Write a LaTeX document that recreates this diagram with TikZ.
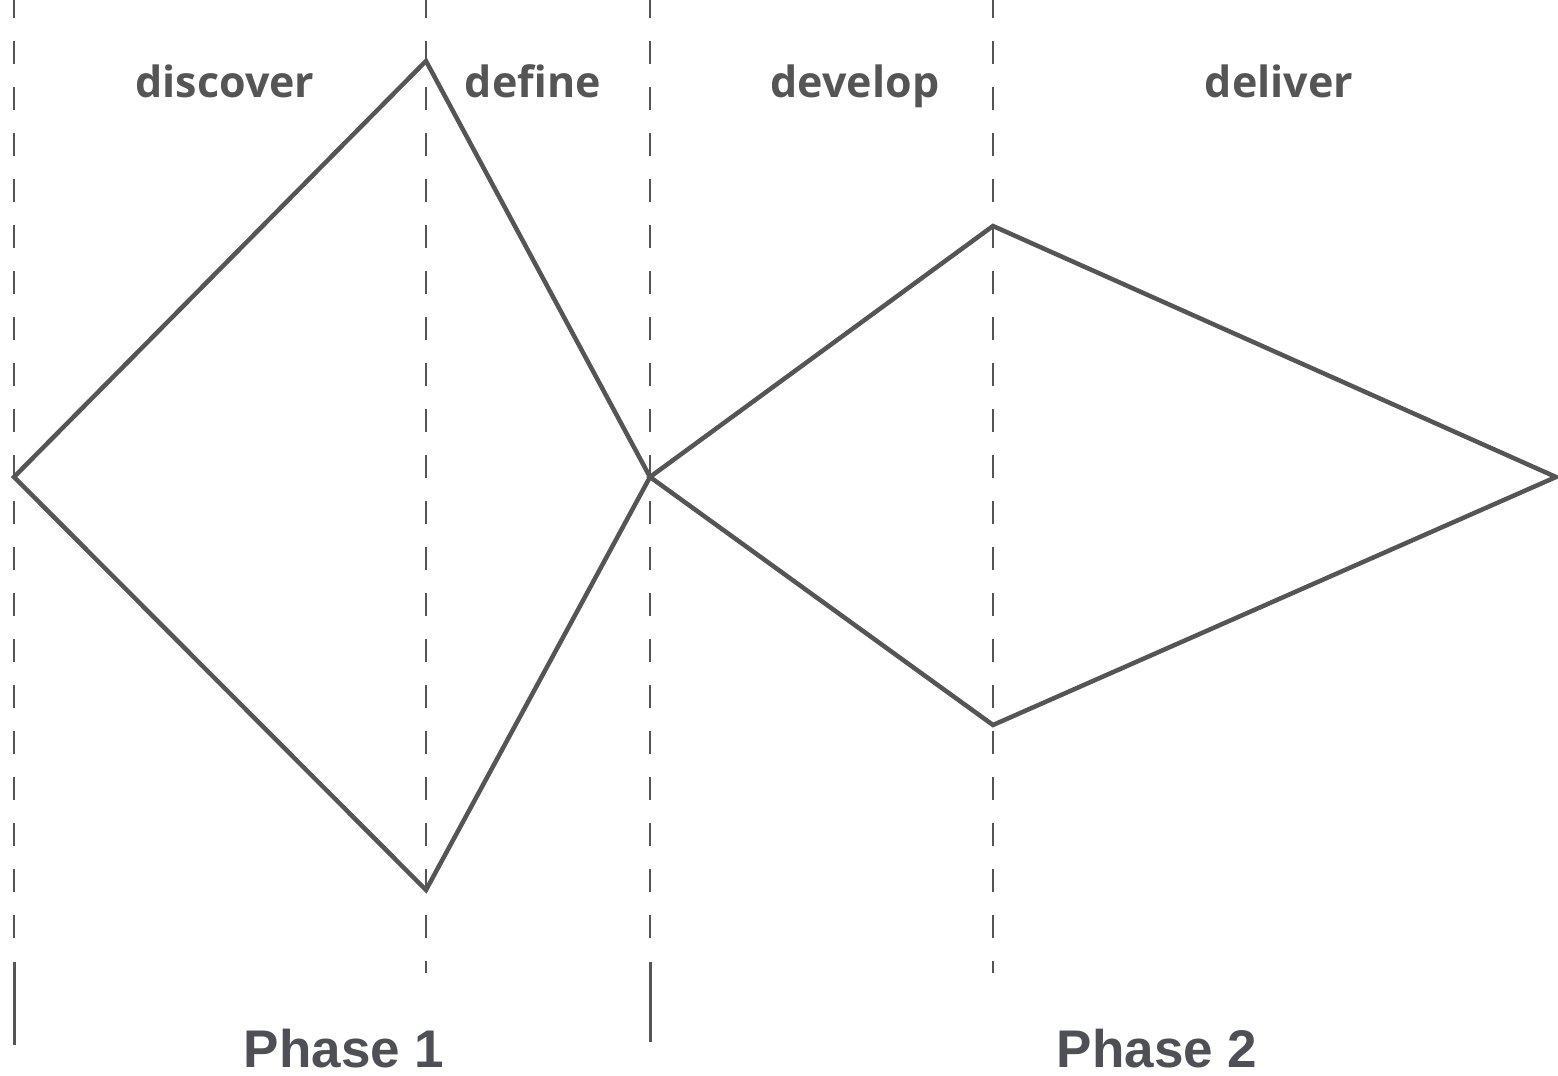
\documentclass[tikz,border=0pt]{standalone}
\usepackage{fontspec}
\setmainfont{Open Sans}
\newfontfamily\phasefont{Liberation Sans}
\definecolor{linegray}{HTML}{555555}
\definecolor{phasegray}{HTML}{4F4F56}
\begin{document}
\begin{tikzpicture}[x=1pt, y=-1pt,
        sep/.style={linegray, line width=2pt, dash pattern=on 23pt off 23pt, dash phase=5pt},
        bar/.style={linegray, line width=3pt},
        edge/.style={linegray, line width=4.5pt, line join=miter}]
        \tikzset{stage/.style={font=\fontsize{43}{43}\selectfont\bfseries, text=linegray, inner sep=0pt},
                 phase/.style={font=\phasefont\fontsize{53}{53}\selectfont\bfseries, text=phasegray, inner sep=0pt}};
        \useasboundingbox (0, 0) rectangle (1558, 1076);

        % separators
        \draw[sep] (14, 0) -- (14, 945);
        \draw[sep] (426, 0) -- (426, 973);
        \draw[sep] (650, 0) -- (650, 945);
        \draw[sep] (993, 0) -- (993, 973);
        \draw[bar] (14, 962) -- (14, 1045);
        \draw[bar] (650, 962) -- (650, 1042);

        % first diamond
        \coordinate (l1) at (14, 477);
        \coordinate (t1) at (426, 61);
        \coordinate (m) at (650, 477);
        \coordinate (b1) at (426, 890);
        \draw[edge] (l1) -- (t1) -- (m) -- (b1) -- cycle;

        % second diamond
        \coordinate (t2) at (993, 226);
        \coordinate (r2) at (1556, 477);
        \coordinate (b2) at (993, 725);
        \draw[edge] (m) -- (t2) -- (r2) -- (b2) -- cycle;

        \node[stage, anchor=base] (discover) at (225, 97) {discover};
        \node[stage, anchor=base] (define) at (533, 97) {define};
        \node[stage, anchor=base] (develop) at (855, 97) {develop};
        \node[stage, anchor=base] (deliver) at (1279, 97) {deliver};

        \node[phase, anchor=base] (phase1) at (344, 1067) {Phase 1};
        \node[phase, anchor=base] (phase2) at (1157, 1067) {Phase 2};
    \end{tikzpicture}
\end{document}
